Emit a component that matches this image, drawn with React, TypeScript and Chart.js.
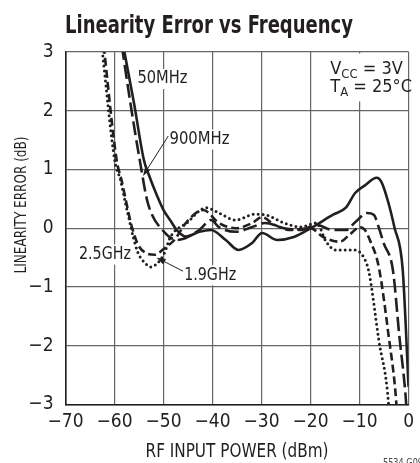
import React, { useEffect, useRef } from "react";
import { Chart, registerables } from "chart.js";

Chart.register(...registerables);

// ---- data ----
const xTickValues = [-70, -60, -50, -40, -30, -20, -10, 0];
const yTickValues = [-3, -2, -1, 0, 1, 2, 3];

const seriesNames = ["50MHz", "900MHz", "1.9GHz", "2.5GHz"];

const x50MHz = [-58.2, -56.0, -54.0, -53.0, -51.3, -50.0, -48.5, -47.3, -45.4, -42.7, -40.3, -37.3, -34.7, -31.9, -29.9, -26.8, -23.4, -20.0, -15.4, -12.8, -10.9, -8.9, -6.5, -5.5, -4.1, -2.9, -1.2, 0];
const y50MHz = [3.1, 2.12, 1.16, 0.91, 0.55, 0.31, 0.12, -0.03, -0.14, -0.06, -0.03, -0.2, -0.37, -0.25, -0.08, -0.2, -0.15, 0.0, 0.23, 0.35, 0.6, 0.73, 0.86, 0.78, 0.43, 0.02, -0.7, -2.7];

const x900MHz = [-58.5, -56.7, -54.85, -53.2, -49.9, -47.2, -42.7, -40.3, -38.7, -35.3, -31.9, -29.3, -25.4, -22.0, -18.8, -15.5, -12.8, -10.8, -8.5, -7.1, -6.1, -5.1, -3.2, -1.9, -0.5, -0.3];
const y900MHz = [3.1, 2.1, 1.16, 0.43, -0.06, -0.2, -0.03, 0.14, 0.02, -0.06, 0.02, 0.09, 0.0, -0.03, 0.06, -0.03, -0.03, 0.11, 0.26, 0.23, 0.02, -0.25, -0.71, -1.82, -2.97, -3.26];

const x1900MHz = [-62.2, -59.56, -58.57, -57.57, -56.58, -55.19, -53.6, -51.8, -49.8, -47.8, -45.25, -41.9, -38.7, -35.3, -31.9, -29.9, -27.4, -24.0, -20.0, -17.4, -14.0, -12.05, -9.9, -8.9, -7.9, -6.1, -4.1, -2.5, -2.3];
const y1900MHz = [3.1, 1.16, 0.82, 0.43, 0.06, -0.28, -0.42, -0.45, -0.34, -0.2, 0.11, 0.31, 0.09, 0.0, 0.09, 0.19, 0.06, -0.03, 0.0, -0.15, -0.23, -0.11, 0.02, -0.03, -0.2, -0.65, -1.81, -2.97, -3.26];

const x2500MHz = [-62.6, -59.96, -58.77, -57.77, -56.98, -56.18, -55.19, -53.8, -52.6, -51.2, -49.8, -48.6, -45.25, -41.3, -38.7, -35.3, -31.3, -29.3, -25.4, -22.0, -18.8, -16.8, -14.8, -11.45, -10.06, -8.87, -8.07, -6.08, -4.09, -3.9];
const y2500MHz = [3.1, 1.16, 0.82, 0.43, 0.14, -0.15, -0.42, -0.59, -0.66, -0.59, -0.42, -0.15, 0.09, 0.35, 0.26, 0.14, 0.24, 0.23, 0.09, 0.02, 0.09, -0.23, -0.37, -0.37, -0.4, -0.54, -0.75, -1.9, -2.98, -3.26];

// ---- annotation placement (data units) ----
const seriesLabels = [
  { text: "50MHz", x: -50.22, y: 2.54, w: 50 },
  { text: "900MHz", x: -42.66, y: 1.51, w: 60 },
  { text: "2.5GHz", x: -61.95, y: -0.45, w: 52 },
  { text: "1.9GHz", x: -40.48, y: -0.8, w: 52 },
];
const arrows = [
  { x1: -49.03, y1: 1.57, x2: -54.19, y2: 0.89 },
  { x1: -46.04, y1: -0.73, x2: -51.41, y2: -0.5 },
];

const INK = "#231f20";
const FAM = "'Liberation Sans Narrow', 'DejaVu Sans Condensed', 'Liberation Sans', sans-serif";

function pts(xs: number[], ys: number[]) {
  return xs.map((x, i) => ({ x, y: ys[i] }));
}

const annotPlugin = {
  id: "annot",
  beforeDatasetsDraw(chart: any) {
    const ctx = chart.ctx as CanvasRenderingContext2D;
    const xs = chart.scales.x;
    const ys = chart.scales.y;
    ctx.save();
    ctx.fillStyle = INK;
    ctx.textBaseline = "middle";
    ctx.textAlign = "center";
    ctx.font = `17px ${FAM}`;
    for (const l of seriesLabels) {
      const px = xs.getPixelForValue(l.x);
      const py = ys.getPixelForValue(l.y);
      ctx.fillStyle = "#ffffff";
      ctx.fillRect(px - l.w / 2 - 2, py - 10, l.w + 4, 20);
      ctx.fillStyle = INK;
      ctx.fillText(l.text, px, py, l.w);
    }
    // arrows
    ctx.strokeStyle = INK;
    ctx.lineWidth = 1;
    for (const a of arrows) {
      const x1 = xs.getPixelForValue(a.x1), y1 = ys.getPixelForValue(a.y1);
      const x2 = xs.getPixelForValue(a.x2), y2 = ys.getPixelForValue(a.y2);
      const ang = Math.atan2(y2 - y1, x2 - x1);
      const L = 9, W = 3;
      const bx = x2 - L * Math.cos(ang), by = y2 - L * Math.sin(ang);
      ctx.beginPath();
      ctx.moveTo(x1, y1);
      ctx.lineTo(bx, by);
      ctx.stroke();
      ctx.beginPath();
      ctx.moveTo(x2, y2);
      ctx.lineTo(bx + W * Math.sin(ang), by - W * Math.cos(ang));
      ctx.lineTo(bx - W * Math.sin(ang), by + W * Math.cos(ang));
      ctx.closePath();
      ctx.fill();
    }
    // conditions box
    const cx = xs.getPixelForValue(-15.98);
    const b1 = ys.getPixelForValue(2.63);
    const b2 = ys.getPixelForValue(2.32);
    ctx.fillStyle = "#ffffff";
    ctx.fillRect(cx - 4, chart.chartArea.top + 1.5, 80, b2 + 8 - chart.chartArea.top);
    ctx.fillStyle = INK;
    ctx.textAlign = "left";
    ctx.textBaseline = "alphabetic";
    const drawSub = (main: string, sub: string, rest: string, x: number, y: number) => {
      ctx.font = `18px ${FAM}`;
      ctx.fillText(main, x, y);
      let cx2 = x + ctx.measureText(main).width;
      ctx.font = `13px ${FAM}`;
      ctx.fillText(sub, cx2, y + 4);
      cx2 += ctx.measureText(sub).width;
      ctx.font = `18px ${FAM}`;
      ctx.fillText(rest, cx2, y);
    };
    drawSub("V", "CC", " = 3V", cx, b1);
    drawSub("T", "A", " = 25°C", cx, b2);
    ctx.restore();
  },
  afterDraw(chart: any) {
    const ctx = chart.ctx as CanvasRenderingContext2D;
    const area = chart.chartArea;
    ctx.save();
    ctx.fillStyle = INK;
    // title
    ctx.textAlign = "left";
    ctx.textBaseline = "alphabetic";
    ctx.font = `bold 25px ${FAM}`;
    ctx.fillText("Linearity Error vs Frequency", 65, 33, 288);
    // x title
    ctx.textAlign = "center";
    ctx.font = `19px ${FAM}`;
    ctx.fillText("RF INPUT POWER (dBm)", (area.left + area.right) / 2, 457, 183);
    // y title
    ctx.save();
    ctx.translate(26, 205);
    ctx.rotate(-Math.PI / 2);
    ctx.font = `16px ${FAM}`;
    ctx.fillText("LINEARITY ERROR (dB)", 0, 0, 137);
    ctx.restore();
    // figure code
    ctx.textAlign = "left";
    ctx.font = `10px ${FAM}`;
    ctx.fillStyle = "#444";
    ctx.fillText("5534 G09", 383, 466, 40);
    ctx.restore();
  },
};

export default function App() {
  const ref = useRef<HTMLCanvasElement | null>(null);
  useEffect(() => {
    if (!ref.current) return;
    const common = {
      borderColor: INK,
      backgroundColor: INK,
      pointRadius: 0,
      fill: false,
      cubicInterpolationMode: "monotone" as const,
    };
    const chart = new Chart(ref.current, {
      type: "line",
      data: {
        datasets: [
          { ...common, label: seriesNames[0], data: pts(x50MHz, y50MHz), borderWidth: 2.6 },
          { ...common, label: seriesNames[1], data: pts(x900MHz, y900MHz), borderWidth: 2.6, borderDash: [14, 5] },
          { ...common, label: seriesNames[2], data: pts(x1900MHz, y1900MHz), borderWidth: 2.6, borderDash: [8, 4] },
          { ...common, label: seriesNames[3], data: pts(x2500MHz, y2500MHz), borderWidth: 3, borderDash: [0, 5], borderCapStyle: "round" },
        ],
      },
      options: {
        animation: false,
        responsive: false,
        maintainAspectRatio: false,
        layout: { autoPadding: false, padding: { top: 52, left: 0, right: 2, bottom: 0 } },
        plugins: { legend: { display: false }, tooltip: { enabled: false }, title: { display: false } },
        scales: {
          x: {
            type: "linear",
            min: -70,
            max: 0,
            afterBuildTicks: (s: any) => { s.ticks = xTickValues.map((v) => ({ value: v })); },
            afterFit: (s: any) => { s.height = 58.5; },
            ticks: {
              color: INK,
              padding: 6,
              font: { family: FAM, size: 19 },
              callback: (v: any) => (Number(v) < 0 ? "\u2212" + Math.abs(Number(v)) : String(v)),
            },
            grid: { color: "#666", lineWidth: 1.2, drawTicks: false },
            border: { color: INK, width: 1.6 },
          },
          y: {
            type: "linear",
            min: -3,
            max: 3,
            afterBuildTicks: (s: any) => { s.ticks = yTickValues.map((v) => ({ value: v })); },
            afterFit: (s: any) => { s.width = 65.5; },
            ticks: {
              color: INK,
              padding: 12,
              font: { family: FAM, size: 19 },
              callback: (v: any) => (Number(v) < 0 ? "\u2212" + Math.abs(Number(v)) : String(v)),
            },
            grid: { color: "#666", lineWidth: 1.2, drawTicks: false },
            border: { color: INK, width: 1.6 },
          },
        },
      },
      plugins: [annotPlugin],
    });
    return () => chart.destroy();
  }, []);
  return (
    <div style={{ position: "fixed", left: 0, top: 0, width: 420, height: 463, overflow: "hidden", background: "#fff" }}>
      <canvas ref={ref} width={420} height={463} style={{ width: 420, height: 463, display: "block" }} />
    </div>
  );
}
